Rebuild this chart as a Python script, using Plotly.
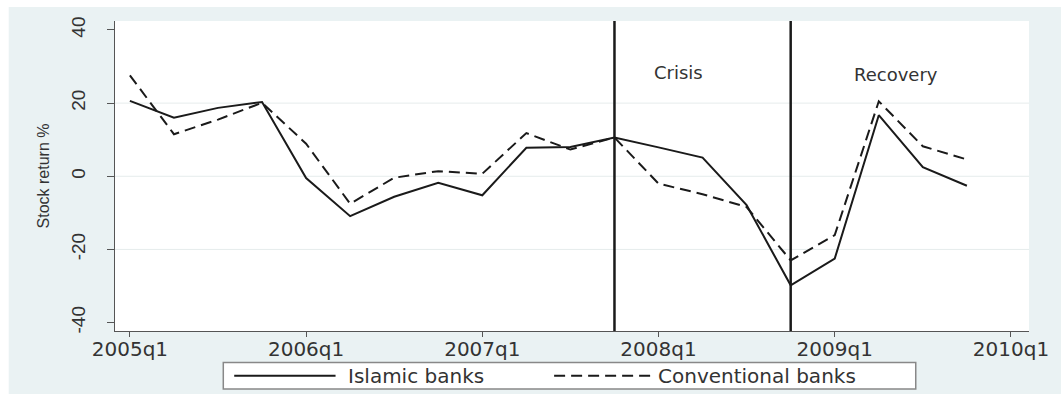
import plotly.graph_objects as go

# Quarterly labels 2005q1 .. 2010q1
quarters = [f"{y}q{q}" for y in range(2005, 2011) for q in range(1, 5)][:21]
tick_labels = ["2005q1", "2006q1", "2007q1", "2008q1", "2009q1", "2010q1"]

# Average stock returns (%) by quarter, 2005q1 .. 2009q4
islamic = [20.6, 16.0, 18.7, 20.3, -0.5, -10.9, -5.6, -1.8, -5.2, 7.8,
           8.0, 10.6, 7.9, 5.1, -7.9, -29.8, -22.5, 16.7, 2.5, -2.6]
conventional = [27.6, 11.5, 15.5, 20.1, 8.9, -7.5, -0.4, 1.4, 0.7, 11.8,
                7.3, 10.6, -2.0, -4.9, -8.4, -23.0, -16.1, 20.5, 8.2, 4.6]

# Period boundaries and their labels
event_quarters = ["2007q4", "2008q4"]
period_labels = ["Crisis", "Recovery"]

y_ticks = [-40, -20, 0, 20, 40]
grid_values = [-20, 0, 20]

BG = "#eaf2f3"
INK = "#1a1a1a"
TXT = "#333333"
AX = "#555555"
WIDE = "DejaVu Sans"
NARROW = "Liberation Sans"

xi = list(range(len(islamic)))
qidx = {q: i for i, q in enumerate(quarters)}

fig = go.Figure()
fig.add_trace(go.Scatter(x=xi, y=islamic, mode="lines", name="Islamic banks",
                         line=dict(color=INK, width=2), showlegend=False))
fig.add_trace(go.Scatter(x=xi, y=conventional, mode="lines", name="Conventional banks",
                         line=dict(color=INK, width=2, dash="11px,6px"), showlegend=False))

shapes = []
# horizontal grid lines (interior ticks only)
for g in grid_values:
    shapes.append(dict(type="line", xref="paper", yref="y", x0=0, x1=1, y0=g, y1=g,
                       line=dict(color="#e6ecec", width=1), layer="below"))
# vertical period boundaries
for q in event_quarters:
    shapes.append(dict(type="line", xref="x", yref="paper", x0=qidx[q], x1=qidx[q],
                       y0=0, y1=1, line=dict(color=INK, width=2.5)))

# white strip along the top and left edges of the canvas
shapes.append(dict(type="rect", xref="paper", yref="paper", x0=-0.13, x1=1.05,
                   y0=1.045, y1=1.08, fillcolor="white", line=dict(width=0), layer="below"))
shapes.append(dict(type="rect", xref="paper", yref="paper", x0=-0.13, x1=-0.1163,
                   y0=-0.25, y1=1.08, fillcolor="white", line=dict(width=0), layer="below"))

# legend box below the plot
PW, PH, L, T = 920.0, 310.0, 115.0, 21.0
def px(x):
    return (x - L) / PW
def py(y):
    return (T + PH - y) / PH

shapes.append(dict(type="rect", xref="paper", yref="paper", x0=px(224), x1=px(921),
                   y0=py(389), y1=py(362.5), fillcolor="white",
                   line=dict(color="#888888", width=1.5)))
shapes.append(dict(type="line", xref="paper", yref="paper", x0=px(235), x1=px(337),
                   y0=py(375.7), y1=py(375.7), line=dict(color=INK, width=2)))
shapes.append(dict(type="line", xref="paper", yref="paper", x0=px(557), x1=px(658),
                   y0=py(375.7), y1=py(375.7), line=dict(color=INK, width=2, dash="11px,6px")))

annotations = [
    dict(xref="paper", yref="paper", x=px(348), y=py(376), text="Islamic banks",
         showarrow=False, xanchor="left", yanchor="middle",
         font=dict(family=WIDE, size=20, color=TXT)),
    dict(xref="paper", yref="paper", x=px(660), y=py(376), text="Conventional banks",
         showarrow=False, xanchor="left", yanchor="middle",
         font=dict(family=WIDE, size=20, color=TXT)),
]
label_pos = [(12.45, 28.5), (17.38, 27.7)]
for txt, (lx, ly) in zip(period_labels, label_pos):
    annotations.append(dict(x=lx, y=ly, xref="x", yref="y", text=txt, showarrow=False,
                            xanchor="center", yanchor="middle",
                            font=dict(family=WIDE, size=18, color=TXT)))

fig.update_layout(
    width=1061, height=394,
    margin=dict(l=115, r=26, t=21, b=63),
    paper_bgcolor=BG, plot_bgcolor="white",
    shapes=shapes, annotations=annotations,
    showlegend=False,
    xaxis=dict(range=[-0.338, 20.41], tickmode="array",
               tickvals=[qidx[t] for t in tick_labels], ticktext=tick_labels,
               showgrid=False, zeroline=False, showline=True, linecolor=AX, linewidth=1.3,
               ticks="outside", ticklen=5, tickcolor=AX, tickwidth=1.3,
               tickfont=dict(family=WIDE, size=20, color=TXT), ticklabelstandoff=-5),
    yaxis=dict(range=[-42.3, 42.45], tickmode="array", tickvals=y_ticks,
               ticktext=[str(v) for v in y_ticks], tickangle=-90,
               showgrid=False, zeroline=False, showline=True, linecolor=AX, linewidth=1.3,
               ticks="outside", ticklen=7, tickcolor=AX, tickwidth=1.3,
               tickfont=dict(family=NARROW, size=19, color=TXT), ticklabelstandoff=14,
               title=dict(text="Stock return %", standoff=14,
                          font=dict(family=NARROW, size=16, color=TXT))),
)

fig.write_html("out.html")
